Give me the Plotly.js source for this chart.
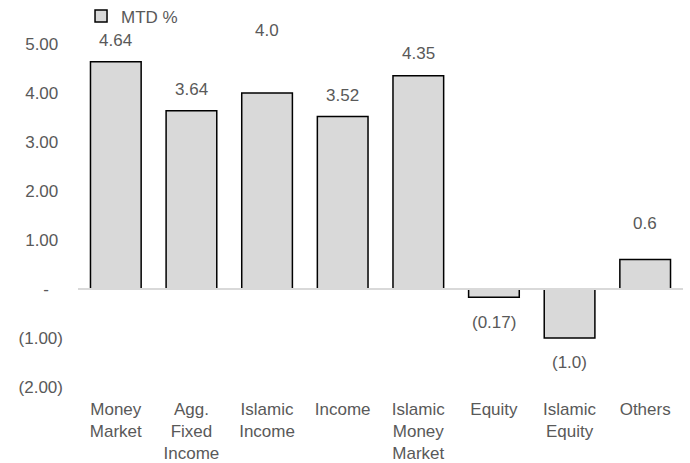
<!DOCTYPE html>
<html>
<head>
<meta charset="utf-8">
<script src="https://cdn.plot.ly/plotly-3.0.1.min.js"></script>
<style>
  html, body { margin: 0; padding: 0; background: #ffffff; }
  #chart { width: 690px; height: 463px; }
</style>
</head>
<body>
<div id="chart"></div>
<script>
// Fund categories (multi-line tick labels)
const categories = [
  "Money<br>Market",
  "Agg.<br>Fixed<br>Income",
  "Islamic<br>Income",
  "Income",
  "Islamic<br>Money<br>Market",
  "Equity",
  "Islamic<br>Equity",
  "Others"
];

// Month-to-date returns, %
const mtdValues = [4.64, 3.64, 4.0, 3.52, 4.35, -0.17, -1.0, 0.6];

// Decimal places shown in each data label
const labelDecimals = [2, 2, 1, 2, 2, 2, 1, 1];

// Value axis ticks (accounting style: negatives in brackets, zero as a dash)
const yTickValues = [-2, -1, 0, 1, 2, 3, 4, 5];
const yTickText = ["(2.00)", "(1.00)", "-\u00a0\u00a0\u00a0", "1.00\u00a0", "2.00\u00a0", "3.00\u00a0", "4.00\u00a0", "5.00\u00a0"];

const seriesName = "MTD %";

const FONT = "'Liberation Sans', Arial, sans-serif";
const TEXT_GRAY = "#595959";

function accounting(v, d) {
  const s = Math.abs(v).toFixed(d);
  return v < 0 ? "(" + s + ")" : s;
}

// Vertical offset (px) of each data label from the end of its bar
const labelShift = [21, 21, 63, 21, 22, -25, -24, 36];

const annotations = mtdValues.map((v, i) => ({
  x: categories[i],
  y: v,
  xref: "x",
  yref: "y",
  text: accounting(v, labelDecimals[i]),
  showarrow: false,
  yanchor: "middle",
  xanchor: "center",
  yshift: labelShift[i],
  font: { family: FONT, size: 17, color: TEXT_GRAY }
}));

const trace = {
  type: "bar",
  name: seriesName,
  x: categories,
  y: mtdValues,
  marker: {
    color: "#d9d9d9",
    line: { color: "#000000", width: 1.5 }
  },
  hoverinfo: "x+y"
};

const layout = {
  width: 690,
  height: 463,
  margin: { l: 78, r: 7, t: 44, b: 76, pad: 0, autoexpand: false },
  paper_bgcolor: "#ffffff",
  plot_bgcolor: "#ffffff",
  font: { family: FONT, size: 17, color: TEXT_GRAY },
  bargap: 0.33,
  showlegend: true,
  legend: {
    orientation: "h",
    x: 0.005,
    xanchor: "left",
    y: 1.08,
    yanchor: "middle",
    font: { family: FONT, size: 17, color: TEXT_GRAY },
    bgcolor: "rgba(0,0,0,0)",
    itemwidth: 30
  },
  xaxis: {
    type: "category",
    showgrid: false,
    showline: false,
    zeroline: false,
    ticks: "",
    ticklabelstandoff: 10,
    tickfont: { family: FONT, size: 17, color: TEXT_GRAY },
    fixedrange: true
  },
  yaxis: {
    range: [-2, 5],
    tickmode: "array",
    tickvals: yTickValues,
    ticktext: yTickText,
    showgrid: false,
    showline: false,
    zeroline: false,
    ticks: "",
    ticklabelstandoff: 14,
    tickfont: { family: FONT, size: 17, color: TEXT_GRAY },
    fixedrange: true
  },
  shapes: [{
    type: "line",
    xref: "paper",
    yref: "y",
    x0: 0,
    x1: 1,
    y0: 0,
    y1: 0,
    layer: "above",
    line: { color: "#d9d9d9", width: 2 }
  }],
  annotations: annotations
};

Plotly.newPlot("chart", [trace], layout, { displayModeBar: false, staticPlot: true });
</script>
</body>
</html>
